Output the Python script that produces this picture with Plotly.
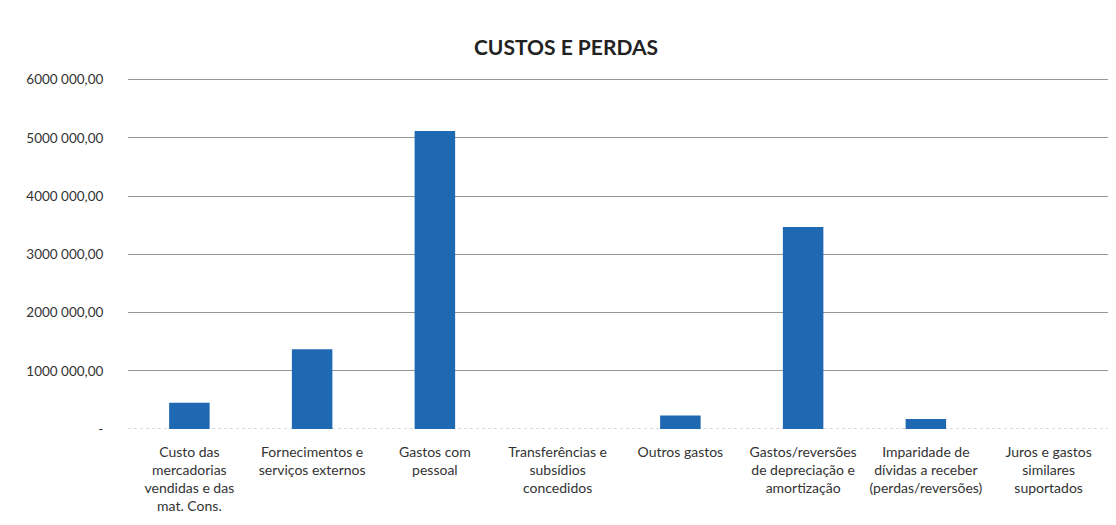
import plotly.graph_objects as go

categories = [
    "Custo das<br>mercadorias<br>vendidas e das<br>mat. Cons.",
    "Fornecimentos e<br>serviços externos",
    "Gastos com<br>pessoal",
    "Transferências e<br>subsídios<br>concedidos",
    "Outros gastos",
    "Gastos/reversões<br>de depreciação e<br>amortização",
    "Imparidade de<br>dívidas a receber<br>(perdas/reversões)",
    "Juros e gastos<br>similares<br>suportados",
]
values = [450000, 1370000, 5120000, 0, 230000, 3470000, 170000, 0]

tick_vals = [0, 1000000, 2000000, 3000000, 4000000, 5000000, 6000000]
tick_text = ["-", "1000 000,00", "2000 000,00", "3000 000,00",
             "4000 000,00", "5000 000,00", "6000 000,00"]

fig = go.Figure(go.Bar(
    x=categories, y=values,
    marker=dict(color="#1f69b3", line=dict(width=0)),
    width=0.33,
))

# dotted baseline at zero
fig.add_shape(type="line", xref="paper", x0=0, x1=1, yref="y", y0=0, y1=0,
              line=dict(color="#b5b5b5", width=1, dash="dot"), layer="below")

fig.update_layout(
    width=1116, height=525,
    paper_bgcolor="white", plot_bgcolor="white",
    margin=dict(l=120, r=14, t=70, b=104, autoexpand=False),
    title=dict(text="<b>CUSTOS E PERDAS</b>", x=0.5, xanchor="center",
               y=0.924, yanchor="middle",
               font=dict(family="Lato", size=21, color="#222222")),
    font=dict(family="Lato", size=14, color="#333333"),
    showlegend=False,
    xaxis=dict(showline=False, ticks="outside", ticklen=10, tickcolor="rgba(0,0,0,0)",
               tickangle=0, automargin=False,
               tickfont=dict(family="Lato", size=14, color="#333333")),
    yaxis=dict(range=[0, 6030000], tickvals=tick_vals, ticktext=tick_text,
               showgrid=True, gridcolor="#959595", gridwidth=1, automargin=False,
               zeroline=False,
               ticks="outside", ticklen=21, tickcolor="rgba(0,0,0,0)",
               tickfont=dict(family="Lato", size=13.5, color="#333333"), showline=False),
)

fig.write_html("out.html")
